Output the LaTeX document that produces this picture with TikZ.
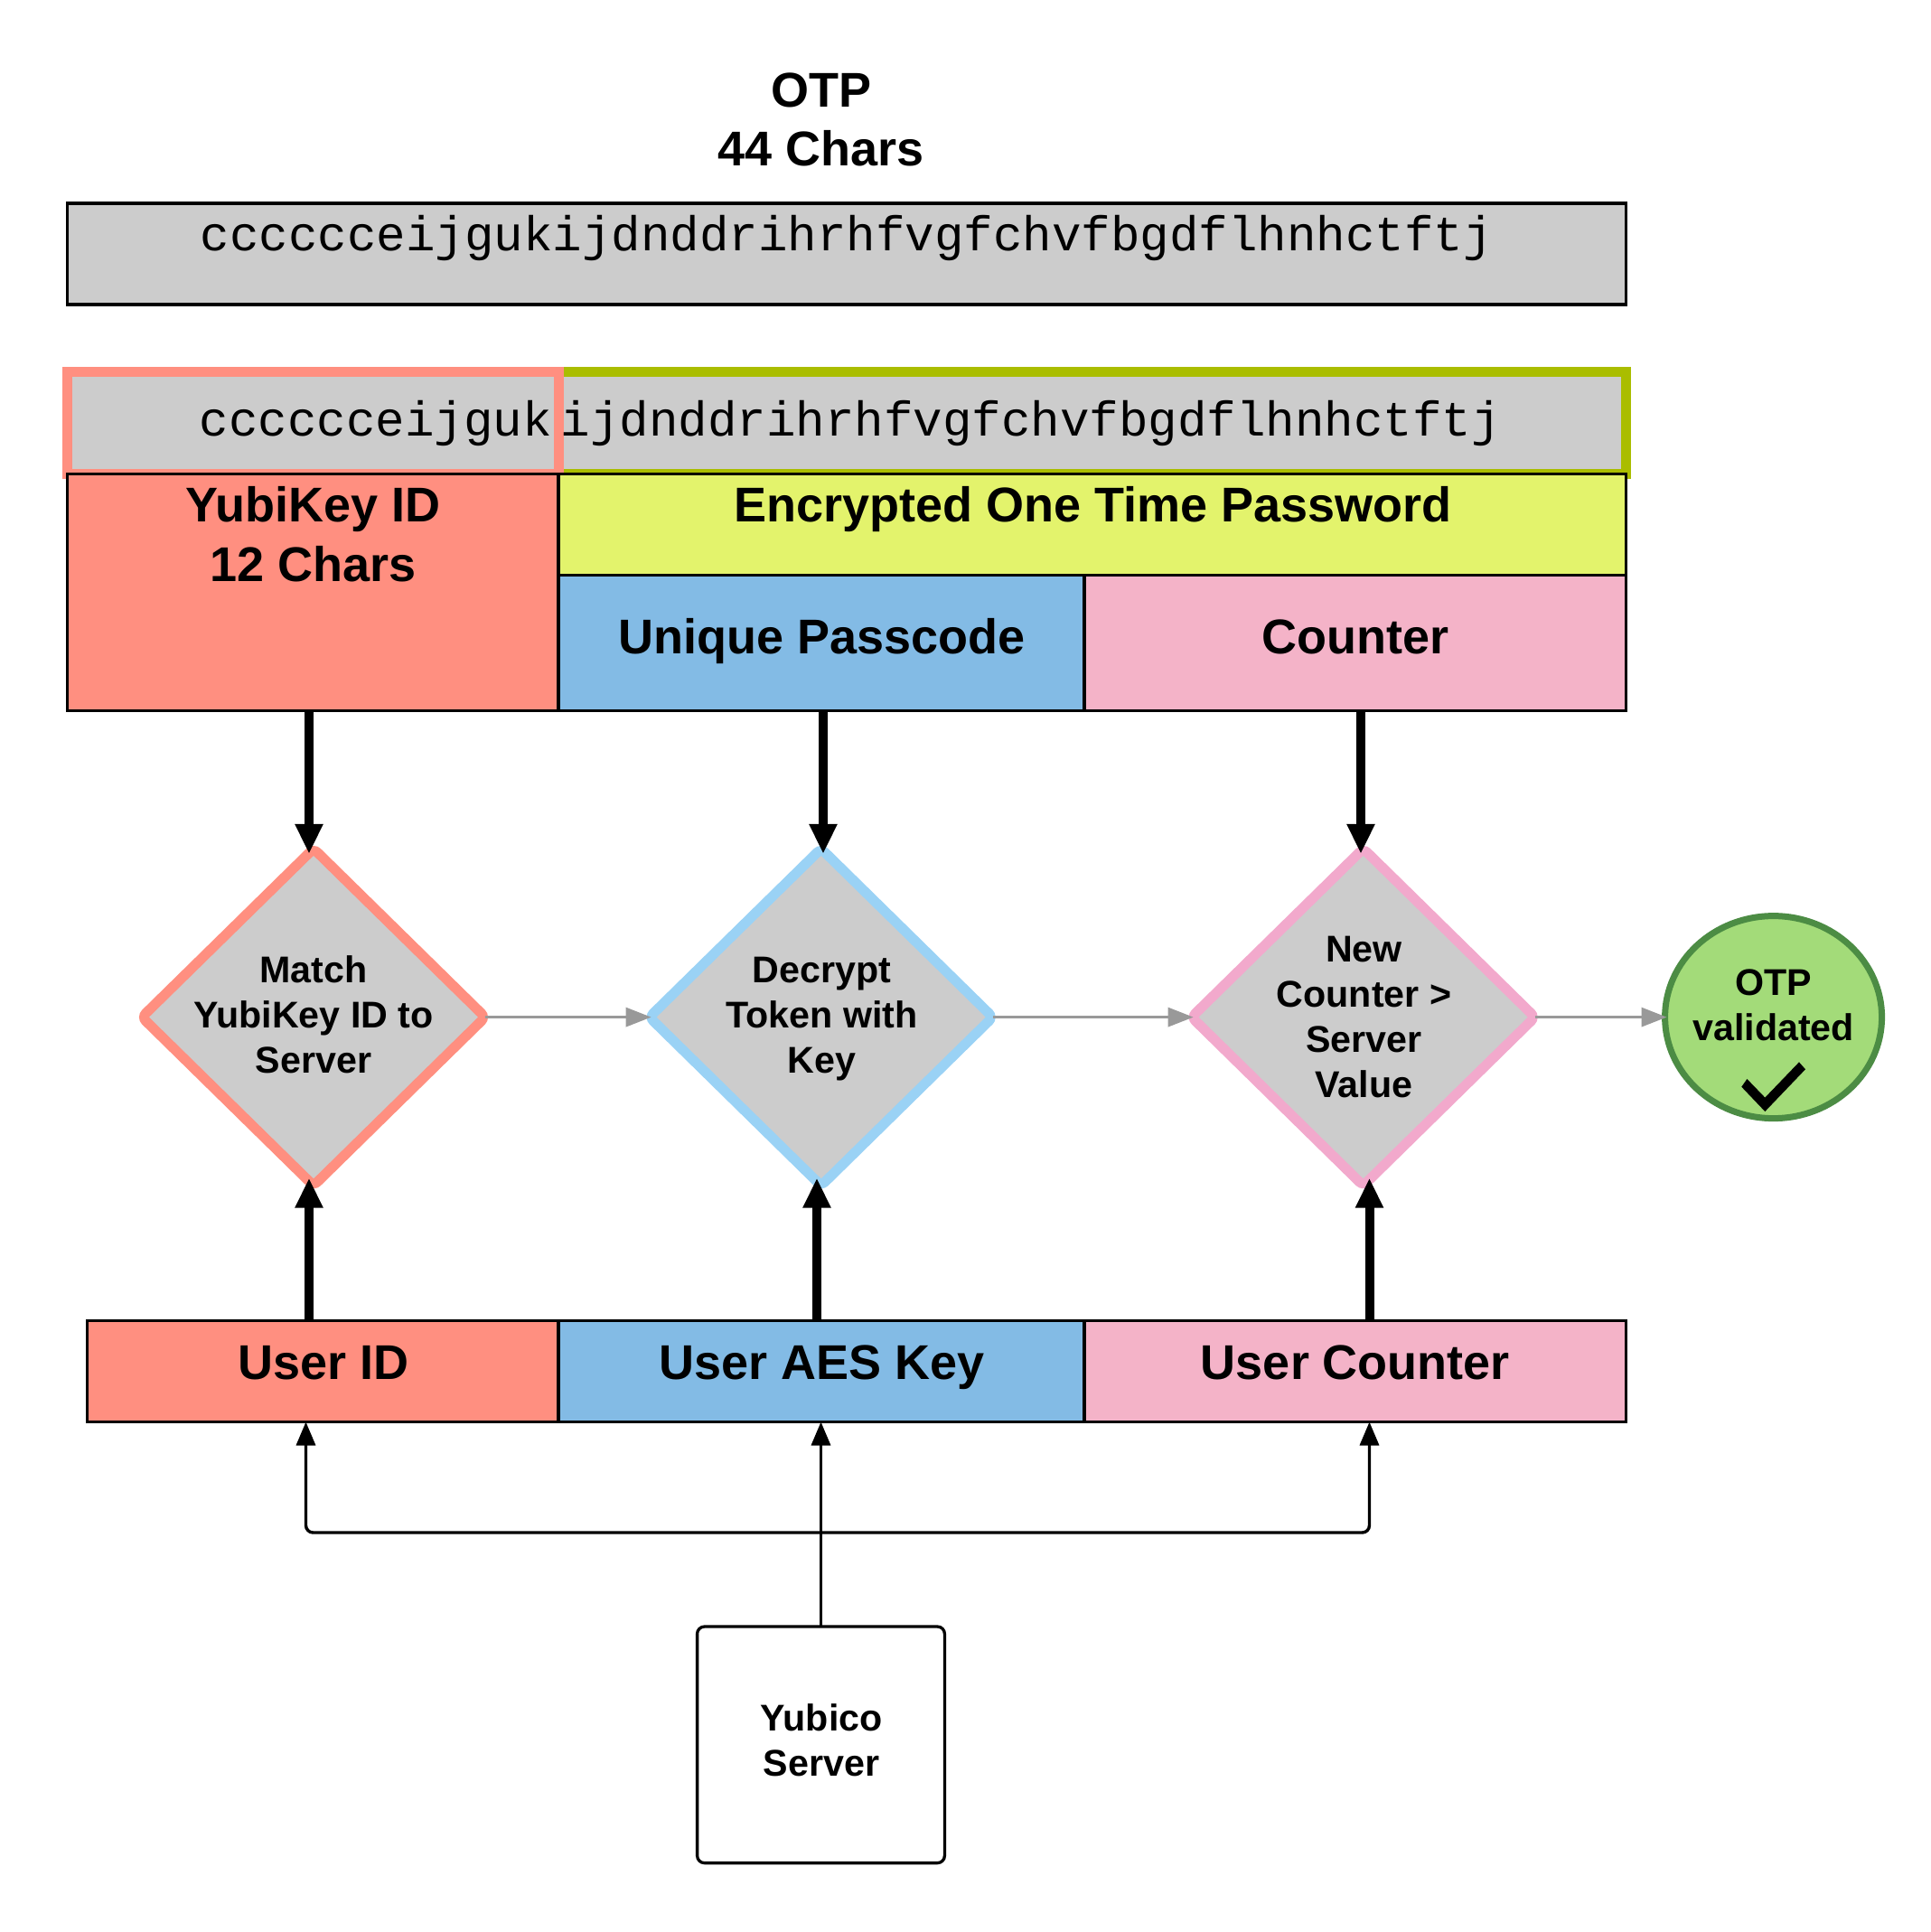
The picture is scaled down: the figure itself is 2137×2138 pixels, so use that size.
\documentclass[tikz,border=0pt]{standalone}
\usepackage{fontspec}
\setmainfont{Liberation Sans}
\setmonofont{Liberation Mono}
\usetikzlibrary{shapes.geometric,arrows.meta}
\definecolor{salmon}{HTML}{FF8F80}
\definecolor{lime}{HTML}{E3F36C}
\definecolor{olive}{HTML}{AABD00}
\definecolor{sky}{HTML}{83BBE5}
\definecolor{rose}{HTML}{F4B3C8}
\definecolor{panel}{HTML}{CCCCCC}
\definecolor{skyline}{HTML}{9AD2F5}
\definecolor{roseline}{HTML}{F2A9CC}
\definecolor{okfill}{HTML}{A3DB79}
\definecolor{okline}{HTML}{4C8C44}
\definecolor{flow}{HTML}{999999}
\tikzset{
  x=0.5pt,y=-0.5pt,
  cell/.style={draw=black,line width=1.65pt,rectangle,inner sep=0pt,outer sep=0pt,anchor=north west},
  outlined/.style={rectangle,inner sep=0pt,outer sep=0pt,anchor=north west,line width=5.5pt},
  bigtext/.style={font=\fontsize{27}{32.5}\selectfont\bfseries,align=center,inner sep=0pt},
  smalltext/.style={font=\fontsize{20.6}{25}\selectfont\bfseries,align=center,inner sep=0pt},
  monotext/.style={font=\fontsize{27.08}{32.5}\selectfont\ttfamily,inner sep=0pt,anchor=base west},
  decision/.style={diamond,inner sep=0pt,outer sep=0pt,minimum width=190pt,minimum height=186.5pt,line width=5.5pt,fill=panel,rounded corners=3pt},
  heavyarrow/.style={-{Triangle[length=16.5pt,width=14.5pt]},line width=5pt,draw=black},
  midarrow/.style={-{Triangle[length=13pt,width=10.5pt]},line width=1.7pt,draw=black,rounded corners=4pt},
  flowarrow/.style={-{Triangle[length=14pt,width=10.5pt]},line width=1.5pt,draw=flow,shorten >=-1pt},
}
\begin{document}
\begin{tikzpicture}
\useasboundingbox (0,0) rectangle (2137,2138);
% title
\node[bigtext,anchor=base] (otpa) at (909,118) {OTP};
\node[bigtext,anchor=base] (otpb) at (909,183.5) {44 Chars};
% top string
\node[cell,fill=panel,minimum width=1724.8*.5pt,minimum height=112*.5pt] (full) at (74.5,225) {};
\node[monotext] (fulltext) at (221.5,277) {cccccceijgukijdnddrihrhfvgfchvfbgdflhnhctftj};
% split string
\node[outlined,draw=olive,fill=panel,minimum width=1181.5*.5pt,minimum height=112.4*.5pt] (encstr) at (618,411.9) {};
\node[outlined,draw=salmon,fill=panel,minimum width=543.5*.5pt,minimum height=112.4*.5pt] (idstr) at (74.5,411.9) {};
\node[monotext] (idtext) at (220.5,482.5) {cccccceijguk};
\node[monotext] (enctext) at (620.5,482.5) {ijdnddrihrhfvgfchvfbgdflhnhctftj};
% field boxes
\node[cell,fill=salmon,minimum width=543.5*.5pt,minimum height=262.3*.5pt] (idbox) at (74.5,524.3) {};
\node[cell,fill=lime,minimum width=1181.3*.5pt,minimum height=112.3*.5pt] (encbox) at (618,524.3) {};
\node[cell,fill=sky,minimum width=582*.5pt,minimum height=150*.5pt] (passbox) at (618,636.6) {};
\node[cell,fill=rose,minimum width=599.3*.5pt,minimum height=150*.5pt] (ctrbox) at (1200,636.6) {};
\node[bigtext,anchor=base] (idta) at (346.5,577.5) {YubiKey ID};
\node[bigtext,anchor=base] (idtb) at (346.5,643) {12 Chars};
\node[bigtext,anchor=base] (enct) at (1209.5,577.5) {Encrypted One Time Password};
\node[bigtext,anchor=base] (passt) at (909.6,723) {Unique Passcode};
\node[bigtext,anchor=base] (ctrt) at (1500.3,723) {Counter};
% decisions
\node[decision,draw=salmon] (dia1) at (347,1125.6) {};
\node[decision,draw=skyline] (dia2) at (908.7,1125.6) {};
\node[decision,draw=roseline] (dia3) at (1508.7,1125.6) {};
\node[smalltext] (dia1t) at (347,1123) {Match\\YubiKey ID to\\Server};
\node[smalltext] (dia2t) at (909.6,1128) {Decrypt\\Token with\\Key};
\node[smalltext] (dia3t) at (1509.5,1125.5) {New\\Counter >\\Server\\Value};
% result
\node[ellipse,draw=okline,fill=okfill,line width=3.5pt,inner sep=0pt,outer sep=0pt,minimum width=120pt,minimum height=112pt] (ok) at (1962.6,1125.6) {};
\node[smalltext] (okt) at (1962.6,1112.5) {OTP\\validated};
\fill[black] (1933.4,1194) -- (1953.3,1214.6) -- (1991,1175.4) -- (1998,1183.3) -- (1953.3,1230) -- (1927.3,1202.7) -- cycle;
% user boxes
\node[cell,fill=salmon,minimum width=521.2*.5pt,minimum height=111.8*.5pt] (uid) at (96.8,1461.7) {};
\node[cell,fill=sky,minimum width=582*.5pt,minimum height=111.8*.5pt] (uaes) at (618,1461.7) {};
\node[cell,fill=rose,minimum width=599.3*.5pt,minimum height=111.8*.5pt] (uctr) at (1200,1461.7) {};
\node[bigtext,anchor=base] (uidt) at (358,1526) {User ID};
\node[bigtext,anchor=base] (uaest) at (909.6,1526) {User AES Key};
\node[bigtext,anchor=base] (uctrt) at (1500,1526) {User Counter};
% server
\node[cell,fill=white,rounded corners=4pt,minimum width=273.8*.5pt,minimum height=261.6*.5pt] (server) at (771.6,1800) {};
\node[smalltext] (servert) at (909,1926) {Yubico\\Server};
% connector columns
\coordinate (ta) at (342,0);
\coordinate (tb) at (911,0);
\coordinate (tc) at (1506,0);
\coordinate (ba) at (342,0);
\coordinate (bb) at (904,0);
\coordinate (bc) at (1515.5,0);
\coordinate (ma) at (338.5,0);
\coordinate (bus) at (908.5,1696);
\draw[heavyarrow,shorten >=-2.9pt] (idbox.south -| ta) -- (dia1.north -| ta);
\draw[heavyarrow,shorten >=-2.9pt] (passbox.south -| tb) -- (dia2.north -| tb);
\draw[heavyarrow,shorten >=-2.9pt] (ctrbox.south -| tc) -- (dia3.north -| tc);
\draw[heavyarrow,shorten >=-4.25pt] (uid.north -| ba) -- (dia1.south -| ba);
\draw[heavyarrow,shorten >=-4.25pt] (uaes.north -| bb) -- (dia2.south -| bb);
\draw[heavyarrow,shorten >=-4.25pt] (uctr.north -| bc) -- (dia3.south -| bc);
\draw[flowarrow] (dia1.east) -- (dia2.west);
\draw[flowarrow] (dia2.east) -- (dia3.west);
\draw[flowarrow] (dia3.east) -- (ok.west);
\draw[midarrow] (server.north) -- (uaes.south -| server.north);
\draw[midarrow] (bus) -| (uid.south -| ma);
\draw[midarrow] (bus) -| (uctr.south -| bc);
\end{tikzpicture}
\end{document}
